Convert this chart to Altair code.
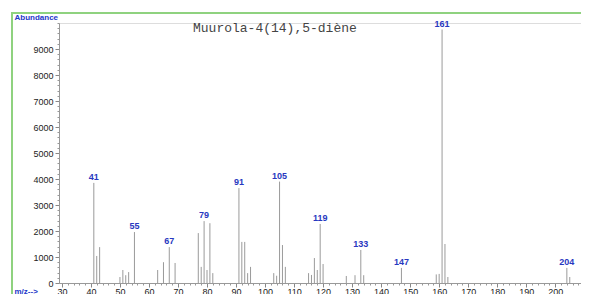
import altair as alt
import pandas as pd

mz = [41, 42, 43, 50, 51, 52, 53, 55, 63, 65, 67, 69, 77, 78, 79, 80, 81, 82,
      91, 92, 93, 94, 95, 103, 104, 105, 106, 107, 115, 116, 117, 118, 119, 120,
      128, 131, 133, 134, 147, 159, 160, 161, 162, 163, 204, 205]
abundance = [3850, 1040, 1380, 230, 500, 300, 420, 1960, 500, 800, 1380, 770,
             1920, 620, 2380, 500, 2300, 380, 3650, 1580, 1580, 380, 620, 380,
             280, 3900, 1460, 620, 380, 310, 960, 500, 2270, 730, 270, 300, 1270,
             300, 580, 330, 350, 9750, 1500, 230, 580, 230]
labeled = [41, 55, 67, 79, 91, 105, 119, 133, 147, 161, 204]

x_ticks = list(range(30, 220, 10))
x_minor = list(range(30, 214, 2))
y_ticks = list(range(0, 10000, 1000))
y_minor = list(range(0, 10001, 200))

df = pd.DataFrame({"mz": mz, "abundance": abundance})
df["label"] = [str(m) if m in labeled else "" for m in mz]
df["base"] = 0

W, H = 522, 260
xs = alt.Scale(domain=[29, 29 + W / 2.902], nice=False, zero=False)
ys = alt.Scale(domain=[0, 10000], nice=False)

frame = alt.Chart(df).mark_rect(fill=None, stroke="#8fd27f", strokeWidth=2).encode(
    x=alt.value(-47), x2=alt.value(W + 40), y=alt.value(-10), y2=alt.value(H + 60)
)

bars = alt.Chart(df).mark_rule(color="#9a9a9a", strokeWidth=1).encode(
    x=alt.X("mz:Q", scale=xs,
            axis=alt.Axis(orient="bottom", values=x_ticks, format="d", title="m/z-->",
                          titleColor="#2236c8",
                          titleFont="Liberation Sans", titleFontSize=8, titleFontWeight="bold",
                          titleX=-45, titleY=8, titleAlign="left", titleBaseline="middle",
                          labelFont="Liberation Sans", labelFontSize=9, labelColor="#222",
                          labelPadding=0, tickSize=4, tickColor="#888", domainColor="#999",
                          grid=False, labelFlush=False)),
    y=alt.Y("base:Q", scale=ys,
            axis=alt.Axis(orient="left", values=y_ticks, format="d", title="Abundance",
                          titleColor="#2236c8",
                          titleFont="Liberation Sans", titleFontSize=8, titleFontWeight="bold",
                          titleAngle=0, titleX=-45, titleY=-6, titleAlign="left",
                          titleBaseline="middle",
                          labelFont="Liberation Sans", labelFontSize=9, labelColor="#222",
                          labelPadding=2, tickSize=4, tickColor="#888", domainColor="#999",
                          grid=False)),
    y2="abundance:Q",
)

xminor = alt.Chart(pd.DataFrame({"v": x_minor})).mark_point(opacity=0).encode(
    x=alt.X("v:Q", scale=xs, axis=alt.Axis(orient="bottom", values=x_minor, labels=False,
                                            title=None, tickSize=2, tickColor="#999",
                                            domain=False, grid=False))
)
yminor = alt.Chart(pd.DataFrame({"v": y_minor})).mark_point(opacity=0).encode(
    y=alt.Y("v:Q", scale=ys, axis=alt.Axis(orient="left", values=y_minor, labels=False,
                                            title=None, tickSize=2, tickColor="#999",
                                            domain=False, grid=False))
)

labels = alt.Chart(df).transform_filter("datum.label != ''").mark_text(
    font="Liberation Sans", fontSize=9, fontWeight="bold", color="#2838c0",
    baseline="bottom", dy=-1
).encode(
    x=alt.X("mz:Q", scale=xs, axis=None),
    y=alt.Y("abundance:Q", scale=ys, axis=None),
    text="label:N",
)

chart = alt.layer(frame, xminor, yminor, bars, labels).resolve_axis(
    x="independent", y="independent"
).properties(
    width=W, height=H,
    title=alt.TitleParams("Muurola-4(14),5-diène", font="Liberation Mono", fontSize=13,
                          fontWeight="normal", color="#444", anchor="start", dx=182,
                          dy=33, offset=0, baseline="alphabetic"),
    autosize=alt.AutoSizeParams(type="none"),
    padding={"left": 51, "top": 15, "right": 0, "bottom": 11},
).configure_view(stroke=None).configure(background="white")

chart.save("out.html", embed_options={"renderer": "svg", "actions": False})
